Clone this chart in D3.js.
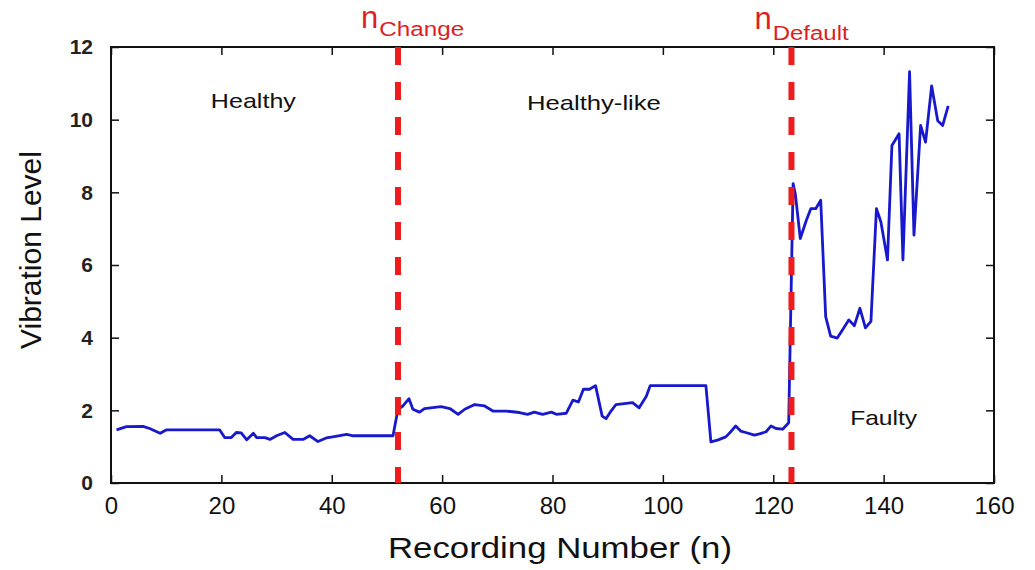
<!DOCTYPE html>
<html>
<head>
<meta charset="utf-8">
<script src="https://cdn.jsdelivr.net/npm/d3@7"></script>
<style>
body { margin: 0; background: #fff; }
svg { display: block; font-family: 'Liberation Sans', Arial, sans-serif; }
</style>
</head>
<body>
<div class="chart"></div>
<script>
// recording number (n) and vibration level
const recording = [1, 2.8, 5.8, 7, 8.9, 10, 19.7, 20.6, 21.8, 22.7, 23.6, 24.6, 25.8, 26.4, 27.9, 28.8, 30, 31.5, 33, 34.8, 36, 37.5, 39, 40.2, 42.7, 43.9, 51.1,
  52, 52.9, 54, 54.7, 55.9, 56.8, 59.8, 61.4, 62.9, 64.1, 65.9, 67.7, 69.2, 71.6, 74, 75.5, 76.7, 78.2, 79.8, 80.7, 82.5, 83.7, 84.7, 85.6, 86.7, 87.8, 89, 89.7, 90.6, 91.5, 94.5, 95.7, 97, 97.7,
  107.8, 108.7, 109.9, 111.4, 112.3, 113.2, 114.1, 115, 116.6, 117.5, 118.7, 119.6, 120.5, 121.7, 122.8,
  123.6, 124, 124.9, 126, 126.8, 127.7, 128.6, 129.5, 130.4, 131.6, 132.8, 133.7, 134.7, 135.7, 136.7, 137.7, 138.7, 139.5, 140.7, 141.5, 142.8, 143.5, 144.7, 145.5, 146.7, 147.6, 148.7, 149.8, 150.7, 151.7];
const vibration = [1.46, 1.55, 1.56, 1.5, 1.37, 1.46, 1.46, 1.25, 1.25, 1.39, 1.38, 1.19, 1.37, 1.25, 1.25, 1.2, 1.3, 1.39, 1.2, 1.2, 1.3, 1.14, 1.24, 1.27, 1.34, 1.3, 1.3,
  2.03, 2.12, 2.32, 2.03, 1.95, 2.05, 2.1, 2.05, 1.89, 2.03, 2.16, 2.12, 1.98, 1.98, 1.94, 1.89, 1.95, 1.89, 1.95, 1.89, 1.92, 2.28, 2.23, 2.58, 2.58, 2.68, 1.84, 1.77, 1.98, 2.16, 2.21, 2.07, 2.39, 2.68,
  2.68, 1.13, 1.18, 1.27, 1.41, 1.57, 1.43, 1.39, 1.32, 1.35, 1.41, 1.57, 1.5, 1.48, 1.66,
  8.24, 7.96, 6.73, 7.23, 7.55, 7.55, 7.78, 4.58, 4.04, 3.99, 4.27, 4.49, 4.33, 4.81, 4.27, 4.45, 7.55, 7.19, 6.14, 9.29, 9.61, 6.14, 11.32, 6.82, 9.84, 9.38, 10.93, 9.97, 9.84, 10.38];

const changePoints = [52, 123.3];
const changeNames = ['Change', 'Default'];
const regionNames = ['Healthy', 'Healthy-like', 'Faulty'];
const regionAt = [[25.8, 10.32], [87.5, 10.27], [140, 1.6]];
const xTicks = [0, 20, 40, 60, 80, 100, 120, 140, 160];
const yTicks = [0, 2, 4, 6, 8, 10, 12];

const W = 1035, H = 570;
const margin = { top: 47, right: 41, bottom: 87, left: 111 };
const width = W - margin.left - margin.right,
      height = H - margin.top - margin.bottom;

const svg = d3.select('.chart').append('svg')
  .attr('width', W).attr('height', H);
const g = svg.append('g')
  .attr('transform', 'translate(' + margin.left + ',' + margin.top + ')');

const x = d3.scaleLinear().domain([0, 160]).range([0, width]);
const y = d3.scaleLinear().domain([0, 12]).range([height, 0]);

// axes, ticks point inward
const xAxis = g.append('g').attr('transform', 'translate(0,' + height + ')')
  .call(d3.axisBottom(x).tickValues(xTicks).tickSizeInner(-8).tickSizeOuter(0).tickPadding(14));
const xTop = g.append('g')
  .call(d3.axisTop(x).tickValues(xTicks).tickSizeInner(-8).tickSizeOuter(0).tickFormat(''));
const yAxis = g.append('g')
  .call(d3.axisLeft(y).tickValues(yTicks).tickSizeInner(-8).tickSizeOuter(0).tickPadding(18));
const yRight = g.append('g').attr('transform', 'translate(' + width + ',0)')
  .call(d3.axisRight(y).tickValues(yTicks).tickSizeInner(-8).tickSizeOuter(0).tickFormat(''));

[xAxis, xTop, yAxis, yRight].forEach(a => {
  a.select('.domain').remove();
  a.selectAll('.tick line').attr('stroke', '#111').attr('stroke-width', 1.5);
});
xAxis.selectAll('text').attr('font-size', 24).attr('fill', '#111')
  .attr('font-family', "'Liberation Sans', Arial, sans-serif");
yAxis.selectAll('text').attr('font-size', 21).attr('font-weight', 'bold').attr('fill', '#222')
  .attr('font-family', "'Liberation Sans', Arial, sans-serif");

g.append('rect')
  .attr('width', width).attr('height', height)
  .attr('fill', 'none').attr('stroke', '#111').attr('stroke-width', 2);

// the vibration series
const pts = recording.map((d, i) => [d, vibration[i]]);
g.append('path')
  .datum(pts)
  .attr('fill', 'none')
  .attr('stroke', '#1818cc')
  .attr('stroke-width', 2.8)
  .attr('stroke-linejoin', 'round')
  .attr('d', d3.line().x(d => x(d[0])).y(d => y(d[1])));

// change point markers
g.selectAll('.cp')
  .data(changePoints)
  .join('line')
  .attr('class', 'cp')
  .attr('x1', d => x(d)).attr('x2', d => x(d))
  .attr('y1', 0).attr('y2', height)
  .attr('stroke', '#ee1c1c')
  .attr('stroke-width', 6)
  .attr('stroke-dasharray', '18,17');

const lab = svg.selectAll('.cplab')
  .data(changePoints)
  .join('text')
  .attr('class', 'cplab')
  .attr('fill', '#dd1f1f')
  .attr('x', d => margin.left + x(d) - 37)
  .attr('y', (d, i) => i == 0 ? 28 : 29);
lab.append('tspan').attr('font-size', 31).text('n');
lab.append('tspan').attr('font-size', 20).attr('dy', (d, i) => i == 0 ? 8 : 11)
  .attr('dx', 1)
  .attr('textLength', (d, i) => i == 0 ? 85 : 76).attr('lengthAdjust', 'spacingAndGlyphs')
  .text((d, i) => changeNames[i]);

// region labels
const regionWidths = [85, 134, 67];
g.selectAll('.region')
  .data(regionNames)
  .join('text')
  .attr('class', 'region')
  .attr('x', (d, i) => x(regionAt[i][0]) - regionWidths[i] / 2)
  .attr('y', (d, i) => y(regionAt[i][1]))
  .attr('font-size', 21)
  .attr('fill', '#111')
  .attr('textLength', (d, i) => regionWidths[i]).attr('lengthAdjust', 'spacingAndGlyphs')
  .text(d => d);

// axis titles
svg.append('text')
  .attr('x', 560).attr('y', 558)
  .attr('text-anchor', 'middle')
  .attr('font-size', 29)
  .attr('fill', '#111')
  .attr('textLength', 344).attr('lengthAdjust', 'spacingAndGlyphs')
  .text('Recording Number (n)');

svg.append('text')
  .attr('transform', 'translate(41,250) rotate(-90)')
  .attr('text-anchor', 'middle')
  .attr('font-size', 30)
  .attr('fill', '#111')
  .text('Vibration Level');
</script>
</body>
</html>
